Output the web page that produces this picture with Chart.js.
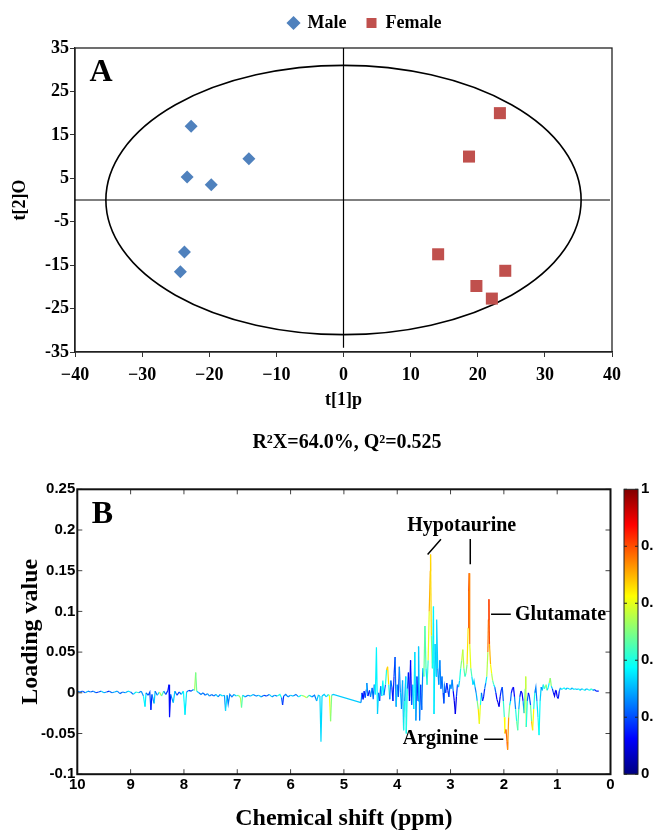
<!DOCTYPE html>
<html>
<head>
<meta charset="UTF-8">
<title>OPLS-DA scores and loadings</title>
<script src="https://cdn.jsdelivr.net/npm/chart.js"></script>
<style>
  html, body { margin: 0; padding: 0; background: #fff; overflow: hidden; }
  .wrap { position: relative; width: 653px; }
  #wrapA { height: 460px; }
  #wrapB { height: 371px; }
  canvas { display: block; }
</style>
</head>
<body>
<div class="wrap" id="wrapA"><canvas id="scoreChart"></canvas></div>
<div class="wrap" id="wrapB"><canvas id="loadingChart"></canvas></div>
<script>
// ---- panel A: OPLS-DA scores ----
const maleT1 = [-22.7, -14.1, -23.3, -19.7, -23.7, -24.3];
const maleT2 = [17.0, 9.5, 5.3, 3.5, -12.0, -16.5];
const femaleT1 = [23.3, 18.7, 14.1, 24.1, 19.8, 22.1];
const femaleT2 = [20.0, 10.0, -12.5, -16.3, -19.8, -22.7];
const scoreXTicks = [-40, -30, -20, -10, 0, 10, 20, 30, 40];
const scoreYTicks = [-35, -25, -15, -5, 5, 15, 25, 35];
// Hotelling T2 ellipse semi-axes, in t[1] / t[2] units
const ellipseT1 = 35.4;
const ellipseT2 = 31.0;

// ---- panel B: loading plot, coloured by |r| ----
const lowPpm = [
  10.00, 9.95, 9.90, 9.85, 9.80, 9.75, 9.70, 9.65, 9.60, 9.55,
  9.50, 9.45, 9.40, 9.35, 9.30, 9.25, 9.20, 9.15, 9.10, 9.05,
  9.00, 8.95, 8.90, 8.85, 8.80, 8.76, 8.73, 8.71, 8.67, 8.64,
  8.62, 8.60, 8.56, 8.54, 8.50, 8.46, 8.42, 8.38, 8.34, 8.30,
  8.28, 8.27, 8.25, 8.20, 8.17, 8.13, 8.09, 8.05, 8.01, 7.98,
  7.95, 7.91, 7.87, 7.82, 7.80, 7.78, 7.76, 7.72, 7.68, 7.64,
  7.60, 7.56, 7.52, 7.48, 7.44, 7.40, 7.36, 7.32, 7.28, 7.24,
  7.22, 7.19, 7.17, 7.14, 7.10, 7.06, 7.02, 6.98, 6.94, 6.92,
  6.90, 6.85, 6.80, 6.75, 6.70, 6.65, 6.60, 6.55, 6.50, 6.45,
  6.40, 6.35, 6.30, 6.25, 6.20, 6.17, 6.15, 6.13, 6.09, 6.05,
  6.00, 5.95, 5.90, 5.85, 5.80, 5.75, 5.70, 5.65, 5.60, 5.55,
  5.51, 5.48, 5.45, 5.43, 5.41, 5.37, 5.33, 5.29, 5.27, 5.25,
  5.23, 5.20
];
const lowLoading = [
  0.002, 0.001, 0.002, 0.000, 0.002, 0.001, 0.002, 0.000, 0.001, 0.002,
  0.000, 0.001, 0.002, 0.000, 0.001, 0.002, -0.001, 0.001, 0.000, 0.002,
  0.001, -0.002, 0.001, 0.000, 0.002, -0.004, -0.017, 0.000, -0.003, 0.001,
  -0.021, -0.002, -0.013, 0.002, -0.003, 0.001, -0.004, 0.002, -0.002, 0.003,
  0.010, -0.030, -0.002, -0.012, 0.002, -0.003, 0.001, -0.002, 0.002, -0.027,
  0.001, 0.003, 0.002, 0.004, 0.003, 0.025, 0.002, 0.000, -0.002, 0.000,
  -0.003, -0.001, -0.004, -0.002, -0.004, -0.002, -0.005, -0.002, -0.004, -0.003,
  -0.022, -0.003, -0.014, -0.002, -0.005, -0.002, -0.004, -0.003, -0.006, -0.018,
  -0.003, -0.005, -0.003, -0.004, -0.002, -0.004, -0.003, -0.005, -0.003, -0.004,
  -0.002, -0.005, -0.003, -0.004, -0.002, -0.006, -0.015, -0.004, -0.002, -0.005,
  -0.003, -0.004, -0.002, -0.005, -0.003, -0.004, -0.006, -0.003, -0.005, -0.003,
  -0.010, -0.003, -0.004, -0.060, -0.004, -0.002, -0.005, -0.002, -0.004, -0.035,
  -0.003, -0.002
];
const lowCorr = [
  .20, .30, .15, .25, .35, .15, .30, .20, .15, .30,
  .35, .20, .15, .30, .25, .35, .15, .30, .20, .40,
  .30, .15, .55, .30, .20, .35, .40, .30, .15, .25,
  .15, .15, .35, .30, .15, .50, .60, .30, .20, .15,
  .15, .12, .15, .35, .30, .20, .15, .30, .35, .40,
  .30, .20, .15, .30, .45, .62, .35, .30, .20, .30,
  .15, .35, .20, .30, .15, .35, .30, .20, .50, .15,
  .40, .30, .20, .30, .20, .30, .35, .50, .55, .55,
  .35, .30, .20, .35, .30, .20, .35, .30, .20, .15,
  .30, .35, .20, .30, .50, .30, .15, .20, .30, .20,
  .35, .30, .20, .30, .45, .55, .60, .35, .30, .20,
  .30, .35, .30, .38, .30, .35, .30, .40, .60, .65,
  .35, .30
];
const highPpm = [
  4.68, 4.66, 4.64, 4.62, 4.60, 4.58, 4.57, 4.55, 4.52, 4.50,
  4.47, 4.45, 4.43, 4.41, 4.39, 4.37, 4.35, 4.33, 4.31, 4.29,
  4.27, 4.25, 4.22, 4.20, 4.18, 4.16, 4.14, 4.12, 4.10, 4.08,
  4.06, 4.04, 4.02, 4.00, 3.98, 3.96, 3.94, 3.92, 3.90, 3.88,
  3.86, 3.84, 3.83, 3.81, 3.79, 3.77, 3.75, 3.73, 3.71, 3.69,
  3.67, 3.65, 3.63, 3.61, 3.60, 3.58, 3.56, 3.54, 3.52, 3.50,
  3.48, 3.46, 3.44, 3.42, 3.40, 3.38, 3.375, 3.36, 3.34, 3.32,
  3.31, 3.29, 3.27, 3.26, 3.24, 3.22, 3.20, 3.18, 3.16, 3.14,
  3.125, 3.11, 3.09, 3.07, 3.05, 3.03, 3.01, 2.99, 2.97, 2.95,
  2.93, 2.91, 2.89, 2.87, 2.85, 2.83, 2.81, 2.79, 2.77, 2.75,
  2.73, 2.71, 2.69, 2.67, 2.66, 2.65, 2.64, 2.62, 2.60, 2.58,
  2.56, 2.54, 2.52, 2.50, 2.48, 2.46, 2.44, 2.42, 2.40, 2.38,
  2.36, 2.34, 2.32, 2.30, 2.29, 2.28, 2.27, 2.25, 2.23, 2.21,
  2.19, 2.17, 2.15, 2.13, 2.11, 2.09, 2.07, 2.05, 2.03, 2.01,
  1.99, 1.98, 1.96, 1.94, 1.93, 1.91, 1.89, 1.875, 1.86, 1.84,
  1.82, 1.80, 1.78, 1.76, 1.74, 1.72, 1.70, 1.68, 1.66, 1.64,
  1.62, 1.60, 1.59, 1.58, 1.56, 1.54, 1.52, 1.50, 1.48, 1.46,
  1.44, 1.42, 1.40, 1.38, 1.36, 1.34, 1.32, 1.30, 1.28, 1.26,
  1.24, 1.22, 1.21, 1.19, 1.17, 1.15, 1.13, 1.11, 1.09, 1.07,
  1.05, 1.03, 1.02, 1.00, 0.98, 0.96, 0.94, 0.92, 0.90, 0.87,
  0.84, 0.81, 0.78, 0.75, 0.72, 0.69, 0.66, 0.63, 0.60, 0.57,
  0.54, 0.51, 0.48, 0.45, 0.42, 0.39, 0.36, 0.33, 0.30, 0.27,
  0.24, 0.22
];
const highLoading = [
  -0.012, 0.000, -0.008, 0.002, -0.006, 0.004, 0.012, -0.004, 0.003, -0.005,
  0.006, -0.008, 0.010, -0.002, 0.056, -0.026, 0.000, -0.010, 0.008, -0.004,
  0.015, -0.003, 0.010, 0.028, 0.032, 0.010, -0.008, 0.015, 0.007, -0.010,
  0.020, 0.044, -0.017, 0.010, -0.005, 0.032, 0.000, -0.020, 0.015, -0.046,
  -0.010, 0.020, -0.050, 0.005, 0.025, -0.010, 0.040, -0.015, 0.010, -0.020,
  0.050, -0.034, 0.020, -0.010, 0.057, -0.034, 0.010, -0.021, 0.030, 0.020,
  0.082, 0.030, 0.010, 0.040, 0.100, 0.150, 0.170, 0.070, 0.030, 0.106,
  -0.026, 0.060, 0.020, 0.090, 0.030, 0.010, 0.040, 0.005, 0.020, 0.000,
  -0.013, 0.008, 0.000, 0.012, 0.003, -0.005, 0.010, 0.005, 0.016, 0.002,
  -0.010, -0.026, -0.005, 0.010, 0.007, 0.015, 0.030, 0.040, 0.053, 0.030,
  0.020, 0.024, 0.035, 0.080, 0.125, 0.147, 0.060, 0.030, 0.020, 0.010,
  0.015, 0.007, 0.000, -0.010, -0.020, -0.038, -0.015, 0.000, -0.010, -0.005,
  0.005, 0.012, 0.020, 0.050, 0.090, 0.115, 0.060, 0.035, 0.024, 0.015,
  0.010, 0.007, 0.000, -0.008, -0.012, -0.017, -0.005, 0.003, 0.007, -0.010,
  -0.030, -0.050, -0.045, -0.060, -0.070, -0.030, -0.015, -0.010, 0.000, 0.005,
  0.007, -0.005, -0.020, -0.035, -0.046, -0.020, -0.005, 0.002, 0.000, -0.010,
  -0.025, 0.005, 0.020, -0.042, -0.010, 0.000, -0.005, -0.015, -0.035, -0.046,
  -0.020, 0.000, 0.007, -0.010, -0.030, -0.052, -0.010, 0.007, 0.003, 0.010,
  0.005, 0.008, 0.010, 0.003, 0.006, 0.012, 0.018, 0.008, 0.005, 0.000,
  -0.004, 0.003, 0.003, -0.005, -0.007, 0.002, 0.006, 0.004, 0.005, 0.006,
  0.004, 0.006, 0.005, 0.004, 0.006, 0.004, 0.005, 0.004, 0.005, 0.003,
  0.005, 0.004, 0.003, 0.005, 0.004, 0.003, 0.005, 0.003, 0.004, 0.002,
  0.002, 0.002
];
const highCorr = [
  .35, .15, .10, .20, .12, .30, .35, .15, .12, .25,
  .30, .15, .30, .35, .38, .35, .30, .15, .25, .30,
  .45, .30, .15, .65, .72, .60, .20, .30, .15, .12,
  .20, .15, .30, .35, .15, .25, .30, .35, .15, .45,
  .35, .20, .50, .30, .15, .12, .10, .15, .30, .35,
  .38, .30, .20, .15, .36, .30, .15, .20, .30, .45,
  .50, .40, .30, .55, .65, .75, .72, .60, .40, .38,
  .35, .35, .30, .36, .30, .20, .35, .15, .30, .20,
  .15, .30, .15, .20, .12, .15, .30, .20, .35, .15,
  .10, .10, .12, .25, .30, .35, .45, .55, .60, .50,
  .40, .45, .55, .75, .82, .80, .70, .50, .40, .30,
  .35, .30, .20, .40, .60, .70, .50, .30, .15, .12,
  .20, .30, .40, .70, .82, .85, .75, .65, .60, .50,
  .40, .30, .15, .12, .10, .10, .12, .20, .12, .30,
  .55, .70, .75, .80, .85, .60, .40, .30, .15, .12,
  .10, .15, .35, .45, .50, .40, .20, .12, .10, .15,
  .40, .55, .62, .50, .30, .15, .10, .30, .65, .75,
  .50, .30, .20, .30, .40, .40, .35, .30, .20, .45,
  .35, .50, .60, .40, .30, .45, .62, .40, .25, .12,
  .10, .12, .15, .10, .10, .20, .30, .35, .35, .40,
  .35, .25, .40, .35, .25, .40, .35, .25, .40, .35,
  .25, .45, .35, .25, .40, .35, .50, .30, .20, .15,
  .15, .15
];
const colorbarTicks = [0, 0.2, 0.4, 0.6, 0.8, 1];

// peak labels (ppm, loading) and their leader lines
const peakLabels = [
  { text: 'Hypotaurine', ppm: 2.79, value: 0.2055, align: 'center' },
  { text: 'Glutamate', ppm: 1.79, value: 0.0964, align: 'left' },
  { text: 'Arginine', ppm: 2.48, value: -0.057, align: 'right' }
];
const peakLeaders = [
  [3.18, 0.1886, 3.43, 0.170],
  [2.63, 0.189, 2.63, 0.158],
  [2.24, 0.0964, 1.87, 0.0964],
  [2.37, -0.057, 2.01, -0.057]
];

const SERIF = '"Liberation Serif", "Times New Roman", serif';
const SANS = '"Liberation Sans", Arial, sans-serif';

function jet(t) {
  const c = v => Math.round(255 * Math.min(1, Math.max(0, v)));
  return 'rgb(' + c(1.5 - Math.abs(4 * t - 3)) + ',' + c(1.5 - Math.abs(4 * t - 2)) + ',' + c(1.5 - Math.abs(4 * t - 1)) + ')';
}

// ---------- chart A ----------
const scoreDecor = {
  id: 'scoreDecor',
  afterLayout(chart) {
    // nudge legend and caption to where the original sits
    const lg = chart.legend;
    lg.left += 59; lg.right += 59;
    lg.top -= 6; lg.bottom -= 6;
    const tb = chart.titleBlock;
    tb.left += 41; tb.right += 41;
  },
  beforeDatasetsDraw(chart) {
    const { ctx, chartArea: a, scales: { x, y } } = chart;
    ctx.save();
    ctx.strokeStyle = '#222';
    ctx.lineWidth = 1.3;
    ctx.strokeRect(a.left, a.top, a.right - a.left, a.bottom - a.top);

    const cx = x.getPixelForValue(0), cy = y.getPixelForValue(0);
    ctx.strokeStyle = '#000';
    ctx.lineWidth = 1.2;
    ctx.beginPath();
    ctx.moveTo(cx, a.top);
    ctx.lineTo(cx, y.getPixelForValue(-34));
    ctx.moveTo(a.left, cy);
    ctx.lineTo(x.getPixelForValue(39.7), cy);
    ctx.stroke();

    ctx.lineWidth = 1.6;
    ctx.beginPath();
    ctx.ellipse(cx, cy, x.getPixelForValue(ellipseT1) - cx, cy - y.getPixelForValue(ellipseT2), 0, 0, 2 * Math.PI);
    ctx.stroke();

    ctx.fillStyle = '#000';
    ctx.font = 'bold 32px ' + SERIF;
    ctx.textAlign = 'center';
    ctx.textBaseline = 'middle';
    ctx.fillText('A', a.left + 26, a.top + 25);
    ctx.restore();
  }
};

new Chart(document.getElementById('scoreChart'), {
  type: 'scatter',
  data: {
    datasets: [
      {
        label: 'Male',
        data: maleT1.map((v, i) => ({ x: v, y: maleT2[i] })),
        pointStyle: 'rectRot',
        pointRadius: 6.5,
        backgroundColor: '#4F81BD',
        borderColor: '#4F81BD',
        borderWidth: 0
      },
      {
        label: 'Female',
        data: femaleT1.map((v, i) => ({ x: v, y: femaleT2[i] })),
        pointStyle: 'rect',
        pointRadius: 8.5,
        backgroundColor: '#C0504D',
        borderColor: '#C0504D',
        borderWidth: 0
      }
    ]
  },
  options: {
    animation: false,
    responsive: true,
    maintainAspectRatio: false,
    layout: { padding: { top: 0, right: 41, bottom: 0, left: 0 } },
    plugins: {
      legend: {
        position: 'top',
        labels: {
          usePointStyle: true,
          boxWidth: 10,
          boxHeight: 10,
          padding: 20,
          color: '#000',
          font: { family: SERIF, size: 18, weight: 'bold' }
        }
      },
      title: {
        display: true,
        position: 'bottom',
        text: 'R²X=64.0%, Q²=0.525',
        color: '#000',
        font: { family: SERIF, size: 20, weight: 'bold', lineHeight: 1.2 },
        padding: { top: 0, bottom: 5 }
      },
      tooltip: { enabled: false }
    },
    scales: {
      x: {
        type: 'linear',
        min: -40,
        max: 40,
        afterBuildTicks: s => { s.ticks = scoreXTicks.map(v => ({ value: v })); },
        afterFit: s => { s.height = 79; },
        ticks: {
          callback: v => v < 0 ? '\u2212' + Math.abs(v) : String(v),
          color: '#000',
          font: { family: SERIF, size: 18, weight: 'bold' },
          padding: 8,
          maxRotation: 0
        },
        grid: { drawOnChartArea: false, drawTicks: true, tickLength: 5, color: '#333' },
        border: { display: true, color: '#222', width: 1.3 },
        title: {
          display: true,
          text: 't[1]p',
          color: '#000',
          font: { family: SERIF, size: 18, weight: 'bold' },
          padding: { top: 0, bottom: 20 }
        }
      },
      y: {
        type: 'linear',
        min: -35,
        max: 35,
        afterBuildTicks: s => { s.ticks = scoreYTicks.map(v => ({ value: v })); },
        afterFit: s => { s.width = 75; },
        ticks: {
          callback: v => String(v),
          color: '#000',
          font: { family: SERIF, size: 18, weight: 'bold' },
          padding: 1
        },
        grid: { drawOnChartArea: false, drawTicks: true, tickLength: 5, color: '#333' },
        border: { display: true, color: '#222', width: 1.3 },
        title: {
          display: true,
          text: 't[2]O',
          color: '#000',
          font: { family: SERIF, size: 18, weight: 'bold' },
          padding: { top: 10, bottom: 0 }
        }
      }
    }
  },
  plugins: [scoreDecor]
});

// ---------- chart B ----------
const spectrumPpm = lowPpm.concat(highPpm);
const spectrumLoading = lowLoading.concat(highLoading);
const spectrumCorr = lowCorr.concat(highCorr);

const loadingDecor = {
  id: 'loadingDecor',
  afterDatasetsDraw(chart) {
    const { ctx, chartArea: a, scales: { x, y } } = chart;
    ctx.save();

    // inward tick marks on all four sides
    ctx.strokeStyle = '#444';
    ctx.lineWidth = 1;
    ctx.beginPath();
    x.ticks.forEach(t => {
      const px = x.getPixelForValue(t.value);
      ctx.moveTo(px, a.bottom); ctx.lineTo(px, a.bottom - 5);
      ctx.moveTo(px, a.top); ctx.lineTo(px, a.top + 5);
    });
    y.ticks.forEach(t => {
      const py = y.getPixelForValue(t.value);
      ctx.moveTo(a.left, py); ctx.lineTo(a.left + 5, py);
      ctx.moveTo(a.right, py); ctx.lineTo(a.right - 5, py);
    });
    ctx.stroke();

    ctx.strokeStyle = '#111';
    ctx.lineWidth = 2;
    ctx.strokeRect(a.left, a.top, a.right - a.left, a.bottom - a.top);

    // peak annotations
    ctx.fillStyle = '#000';
    ctx.font = 'bold 20px ' + SERIF;
    ctx.textBaseline = 'middle';
    peakLabels.forEach(p => {
      ctx.textAlign = p.align;
      ctx.fillText(p.text, x.getPixelForValue(p.ppm), y.getPixelForValue(p.value));
    });
    ctx.strokeStyle = '#000';
    ctx.lineWidth = 1.5;
    ctx.beginPath();
    peakLeaders.forEach(l => {
      ctx.moveTo(x.getPixelForValue(l[0]), y.getPixelForValue(l[1]));
      ctx.lineTo(x.getPixelForValue(l[2]), y.getPixelForValue(l[3]));
    });
    ctx.stroke();

    ctx.font = 'bold 32px ' + SERIF;
    ctx.textAlign = 'center';
    ctx.fillText('B', a.left + 25, a.top + 25);

    // colour bar
    const bx = a.right + 13.5, bw = 14;
    const grad = ctx.createLinearGradient(0, a.bottom, 0, a.top);
    for (let i = 0; i <= 16; i++) grad.addColorStop(i / 16, jet(i / 16));
    ctx.fillStyle = grad;
    ctx.fillRect(bx, a.top, bw, a.bottom - a.top);
    ctx.strokeStyle = '#222';
    ctx.lineWidth = 1;
    ctx.strokeRect(bx, a.top, bw, a.bottom - a.top);
    ctx.fillStyle = '#000';
    ctx.font = 'bold 15px ' + SANS;
    ctx.textAlign = 'left';
    ctx.beginPath();
    colorbarTicks.forEach(v => {
      const py = a.bottom - v * (a.bottom - a.top);
      ctx.moveTo(bx, py); ctx.lineTo(bx + 3, py);
      ctx.moveTo(bx + bw, py); ctx.lineTo(bx + bw - 3, py);
      ctx.fillText(String(v), bx + bw + 3, py);
    });
    ctx.stroke();
    ctx.restore();
  }
};

new Chart(document.getElementById('loadingChart'), {
  type: 'line',
  data: {
    datasets: [{
      data: spectrumPpm.map((v, i) => ({ x: v, y: spectrumLoading[i] })),
      borderWidth: 1.2,
      pointRadius: 0,
      tension: 0,
      fill: false,
      borderColor: jet(0.3),
      segment: {
        borderColor: c => jet((spectrumCorr[c.p0DataIndex] + spectrumCorr[c.p1DataIndex]) / 2)
      }
    }]
  },
  options: {
    animation: false,
    responsive: true,
    maintainAspectRatio: false,
    layout: { padding: { top: 29.3, right: 42.5, bottom: 0, left: 0 } },
    plugins: { legend: { display: false }, tooltip: { enabled: false } },
    scales: {
      x: {
        type: 'linear',
        reverse: true,
        min: 0,
        max: 10,
        afterFit: s => { s.height = 56.8; },
        ticks: {
          stepSize: 1,
          autoSkip: false,
          maxRotation: 0,
          callback: v => String(v),
          color: '#000',
          font: { family: SANS, size: 15, weight: 'bold' },
          padding: 2
        },
        grid: { display: false, drawTicks: false },
        border: { display: false },
        title: {
          display: true,
          text: 'Chemical shift (ppm)',
          color: '#000',
          font: { family: SERIF, size: 24, weight: 'bold', lineHeight: 1 },
          padding: { top: 0, bottom: 0 }
        }
      },
      y: {
        type: 'linear',
        min: -0.1,
        max: 0.25,
        afterFit: s => { s.width = 77.3; },
        ticks: {
          stepSize: 0.05,
          callback: v => String(parseFloat(v.toFixed(2))),
          color: '#000',
          font: { family: SANS, size: 15, weight: 'bold' },
          padding: 2
        },
        grid: { display: false, drawTicks: false },
        border: { display: false },
        title: {
          display: true,
          text: 'Loading value',
          color: '#000',
          font: { family: SERIF, size: 24, weight: 'bold', lineHeight: 1.2 },
          padding: { top: 16.6, bottom: 0 }
        }
      }
    }
  },
  plugins: [loadingDecor]
});
</script>
</body>
</html>
